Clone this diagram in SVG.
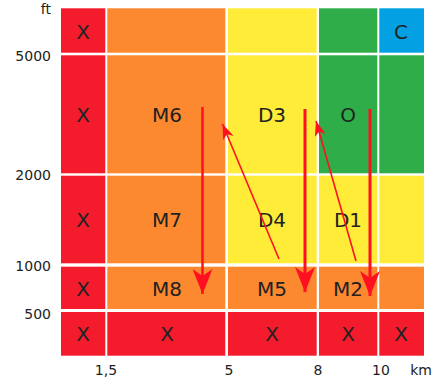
<svg xmlns="http://www.w3.org/2000/svg" width="448" height="385" viewBox="0 0 448 385">
<defs>
<style>
.r{fill:#F31B2C}.o{fill:#FC882F}.y{fill:#FFEC39}.g{fill:#2EAD48}.b{fill:#03A0E3}
.t{font-family:"DejaVu Sans",sans-serif;font-size:20px;fill:#222;text-anchor:middle}
.a{font-family:"DejaVu Sans",sans-serif;font-size:14px;fill:#222}
.ln{stroke:#FF1020;fill:none}
</style>
<marker id="big" viewBox="0 0 25 20" refX="25" refY="10" markerWidth="25" markerHeight="20" markerUnits="userSpaceOnUse" orient="auto">
<path d="M0,0 L25,10 L0,20 L7,10 z" fill="#FF1020"/>
</marker>
<marker id="small" viewBox="0 0 15 11" refX="15" refY="5.5" markerWidth="15" markerHeight="11" markerUnits="userSpaceOnUse" orient="auto">
<path d="M0,0 L15,5.5 L0,11 L4,5.5 z" fill="#FF1020"/>
</marker>
</defs>
<rect width="448" height="385" fill="#fff"/>
<g id="cells">
<g id="row0">
<rect class="r" x="61" y="8.3" width="44.3" height="44.4"/>
<rect class="o" x="107.3" y="8.3" width="118" height="44.4"/>
<rect class="y" x="228" y="8.3" width="88.7" height="44.4"/>
<rect class="g" x="319" y="8.3" width="58.3" height="44.4"/>
<rect class="b" x="379.3" y="8.3" width="44.7" height="44.4"/>
</g>
<g id="row1">
<rect class="r" x="61" y="55.3" width="44.3" height="118"/>
<rect class="o" x="107.3" y="55.3" width="118" height="118"/>
<rect class="y" x="228" y="55.3" width="88.7" height="118"/>
<rect class="g" x="319" y="55.3" width="58.3" height="118"/>
<rect class="g" x="379.3" y="55.3" width="44.7" height="118"/>
</g>
<g id="row2">
<rect class="r" x="61" y="175.7" width="44.3" height="87.6"/>
<rect class="o" x="107.3" y="175.7" width="118" height="87.6"/>
<rect class="y" x="228" y="175.7" width="88.7" height="87.6"/>
<rect class="y" x="319" y="175.7" width="58.3" height="87.6"/>
<rect class="y" x="379.3" y="175.7" width="44.7" height="87.6"/>
</g>
<g id="row3">
<rect class="r" x="61" y="266.7" width="44.3" height="42.3"/>
<rect class="o" x="107.3" y="266.7" width="118" height="42.3"/>
<rect class="o" x="228" y="266.7" width="88.7" height="42.3"/>
<rect class="o" x="319" y="266.7" width="58.3" height="42.3"/>
<rect class="o" x="379.3" y="266.7" width="44.7" height="42.3"/>
</g>
<g id="row4">
<rect class="r" x="61" y="312" width="44.3" height="43.7"/>
<rect class="r" x="107.3" y="312" width="118" height="43.7"/>
<rect class="r" x="228" y="312" width="88.7" height="43.7"/>
<rect class="r" x="319" y="312" width="58.3" height="43.7"/>
<rect class="r" x="379.3" y="312" width="44.7" height="43.7"/>
</g>
</g>
<g id="labels">
<text class="t" x="83" y="39">X</text>
<text class="t" x="401" y="39">C</text>
<text class="t" x="83" y="122">X</text>
<text class="t" x="167" y="122">M6</text>
<text class="t" x="272" y="122">D3</text>
<text class="t" x="348" y="122">O</text>
<text class="t" x="83" y="227">X</text>
<text class="t" x="167" y="227">M7</text>
<text class="t" x="272" y="227">D4</text>
<text class="t" x="348" y="227">D1</text>
<text class="t" x="83" y="296">X</text>
<text class="t" x="167" y="296">M8</text>
<text class="t" x="272" y="296">M5</text>
<text class="t" x="348" y="296">M2</text>
<text class="t" x="83" y="341">X</text>
<text class="t" x="167" y="341">X</text>
<text class="t" x="272" y="341">X</text>
<text class="t" x="348" y="341">X</text>
<text class="t" x="401" y="341">X</text>
</g>
<g id="axes">
<text class="a" x="51" y="14" text-anchor="end">ft</text>
<text class="a" x="51" y="60.5" text-anchor="end">5000</text>
<text class="a" x="51" y="180" text-anchor="end">2000</text>
<text class="a" x="51" y="270.5" text-anchor="end">1000</text>
<text class="a" x="51" y="319" text-anchor="end">500</text>
<text class="a" x="106" y="375" text-anchor="middle">1,5</text>
<text class="a" x="229" y="375" text-anchor="middle">5</text>
<text class="a" x="318" y="375" text-anchor="middle">8</text>
<text class="a" x="381" y="375" text-anchor="middle">10</text>
<text class="a" x="421" y="375" text-anchor="middle">km</text>
</g>
<g id="connectors">
<line class="ln" x1="202.5" y1="107" x2="202.5" y2="294" stroke-width="2.5" marker-end="url(#big)"/>
<line class="ln" x1="305" y1="109" x2="305" y2="292" stroke-width="3" marker-end="url(#big)"/>
<line class="ln" x1="370" y1="109" x2="370" y2="296" stroke-width="3" marker-end="url(#big)"/>
<line class="ln" x1="279" y1="259" x2="222.5" y2="124" stroke-width="1.6" marker-end="url(#small)"/>
<line class="ln" x1="356" y1="261" x2="316" y2="121" stroke-width="1.6" marker-end="url(#small)"/>
</g>
</svg>
